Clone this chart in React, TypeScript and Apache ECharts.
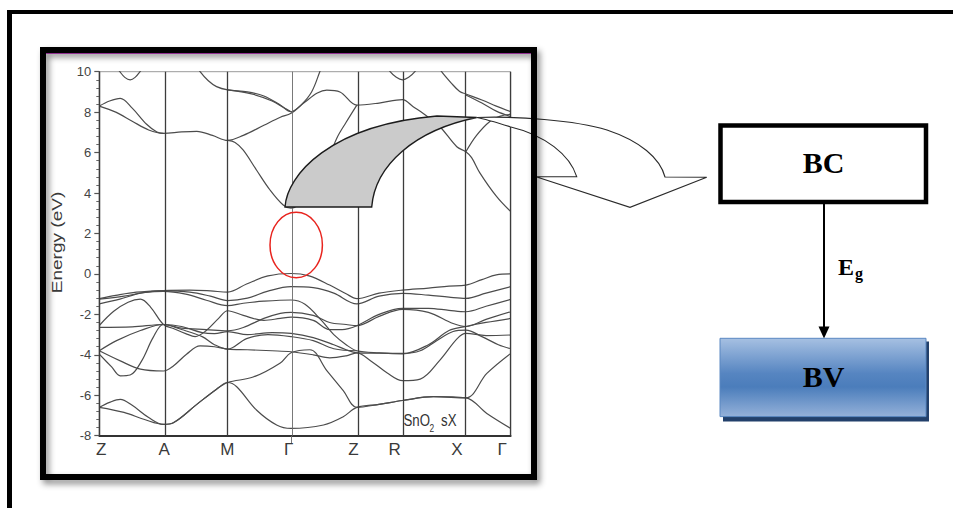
import React, { useEffect, useRef } from 'react';
import * as echarts from 'echarts';

// High-symmetry points along the k-path (normalised path length)
const kPointPositions = [0, 0.156, 0.312, 0.466, 0.626, 0.737, 0.891, 1.0];
const kPointLabels = ['Z', 'A', 'M', 'Γ', 'Z', 'R', 'X', 'Γ'];

// Energy axis (eV)
const energyMin = -8;
const energyMax = 10;
const energyStep = 2;

// Conduction bands: [k, E]
const cb1 = [[0.312, 6.6], [0.33, 6.5], [0.35, 6.12], [0.382, 5.14], [0.415, 4.15], [0.447, 3.41], [0.466, 3.25], [0.5, 3.7], [0.54, 4.9], [0.577, 6.7], [0.6, 7.5], [0.626, 8.35]];
const cb2 = [[0, 8.3], [0.025, 8.55], [0.051, 8.68], [0.08, 8.2], [0.115, 7.4], [0.14, 7.02], [0.156, 6.95]];
const cb3 = [[0, 8.3], [0.04, 8.0], [0.08, 7.55], [0.12, 7.12], [0.156, 6.95], [0.2, 7.02], [0.237, 7.05], [0.275, 6.85], [0.312, 6.6], [0.35, 6.85], [0.4, 7.35], [0.44, 7.75], [0.466, 7.94], [0.5, 8.5], [0.53, 8.95], [0.553, 9.09], [0.585, 9.0], [0.626, 8.35], [0.68, 8.45], [0.737, 8.62], [0.763, 8.27], [0.79, 7.9], [0.828, 7.28], [0.869, 6.29], [0.891, 6.04], [0.905, 5.75], [0.925, 5.0], [0.966, 3.82], [1.0, 3.08]];
const cb4 = [[0.035, 10.4], [0.05, 10.0], [0.062, 9.72], [0.075, 9.6], [0.087, 9.72], [0.099, 10.0], [0.112, 10.4]];
const cb5 = [[0.23, 10.5], [0.245, 10.0], [0.265, 9.55], [0.285, 9.26], [0.312, 9.1], [0.36, 9.0], [0.4, 8.8], [0.44, 8.35], [0.466, 8.02], [0.49, 8.35], [0.516, 9.0], [0.536, 10.0], [0.545, 10.5]];
const cb6 = [[0.312, 9.1], [0.37, 8.9], [0.42, 8.55], [0.45, 8.2], [0.466, 8.02]];
const cb7 = [[0.695, 10.4], [0.707, 10.0], [0.722, 9.72], [0.737, 9.6], [0.752, 9.72], [0.767, 10.0], [0.78, 10.4]];
const cb8 = [[0.82, 10.4], [0.832, 10.0], [0.855, 9.45], [0.876, 9.02], [0.891, 8.9], [0.93, 8.6], [0.965, 8.3], [1.0, 8.02]];
const cb9 = [[0.891, 8.85], [0.93, 8.45], [0.965, 8.05], [1.0, 7.78]];
const cb10 = [[0.891, 6.04], [0.917, 6.85], [0.95, 7.55], [0.975, 7.8], [1.0, 7.9]];

// Valence bands: [k, E]
const vb1 = [[0, -1.22], [0.04, -1.06], [0.09, -0.9], [0.156, -0.82], [0.22, -0.8], [0.27, -0.84], [0.312, -0.9], [0.358, -0.5], [0.41, -0.1], [0.466, 0.02], [0.51, -0.1], [0.56, -0.55], [0.6, -0.98], [0.626, -1.22], [0.68, -0.95], [0.737, -0.8], [0.8, -0.7], [0.85, -0.6], [0.891, -0.55], [0.93, -0.28], [0.965, -0.05], [1.0, 0.0]];
const vb2 = [[0, -1.48], [0.05, -1.25], [0.1, -0.95], [0.156, -0.84], [0.22, -0.9], [0.27, -1.1], [0.312, -1.32], [0.36, -1.2], [0.41, -0.85], [0.466, -0.63], [0.52, -0.68], [0.57, -0.95], [0.626, -1.48], [0.68, -1.1], [0.737, -0.96], [0.8, -1.05], [0.85, -1.15], [0.891, -1.21], [0.94, -0.95], [1.0, -0.63]];
const vb3 = [[0, -1.25], [0.06, -1.1], [0.11, -0.92], [0.156, -0.86], [0.21, -1.0], [0.26, -1.3], [0.312, -1.57], [0.35, -1.45], [0.4, -1.35], [0.466, -1.29], [0.5, -1.5], [0.54, -2.3], [0.57, -3.0], [0.6, -3.5], [0.626, -3.8], [0.68, -3.9], [0.737, -3.93], [0.78, -3.8], [0.82, -3.3], [0.86, -2.85], [0.891, -2.78], [0.93, -3.1], [0.97, -3.5], [1.0, -3.7]];
const vb4 = [[0, -2.55], [0.035, -1.85], [0.07, -1.4], [0.1, -1.25], [0.125, -1.65], [0.156, -2.5], [0.18, -2.7], [0.21, -2.95], [0.233, -3.1], [0.26, -2.8], [0.29, -2.2], [0.312, -1.82], [0.35, -2.05], [0.4, -2.3], [0.44, -2.2], [0.466, -2.14], [0.52, -2.3], [0.56, -2.75], [0.59, -2.75], [0.626, -2.56], [0.68, -2.0], [0.737, -1.7], [0.8, -1.7], [0.85, -1.8], [0.891, -1.87], [0.94, -1.6], [1.0, -1.26]];
const vb5 = [[0, -2.64], [0.08, -2.62], [0.156, -2.5], [0.2, -2.68], [0.26, -2.75], [0.312, -2.81], [0.35, -2.65], [0.4, -2.2], [0.44, -1.95], [0.466, -1.9], [0.52, -2.05], [0.56, -2.4], [0.6, -2.5], [0.626, -2.56], [0.68, -2.1], [0.737, -1.75], [0.8, -1.9], [0.86, -2.45], [0.891, -2.6], [0.94, -2.25], [1.0, -1.87]];
const vb6 = [[0, -3.8], [0.051, -4.3], [0.1, -4.71], [0.156, -4.8], [0.18, -4.55], [0.212, -3.97], [0.245, -3.56], [0.28, -3.6], [0.312, -3.72], [0.36, -3.75], [0.42, -3.8], [0.466, -3.85], [0.52, -4.0], [0.56, -4.15], [0.6, -4.05], [0.626, -3.9], [0.66, -4.3], [0.7, -4.9], [0.737, -5.28], [0.78, -5.2], [0.828, -4.26], [0.87, -3.2], [0.891, -2.94], [0.94, -3.05], [1.0, -3.02]];
const vb7 = [[0, -3.8], [0.042, -3.3], [0.1, -2.8], [0.156, -2.5], [0.2, -2.6], [0.25, -2.9], [0.28, -2.95], [0.312, -2.85], [0.36, -3.0], [0.42, -2.9], [0.466, -2.94], [0.52, -3.15], [0.57, -3.5], [0.6, -3.75], [0.626, -3.9], [0.68, -3.92], [0.737, -3.95], [0.8, -3.5], [0.85, -2.8], [0.891, -2.6], [0.94, -2.4], [1.0, -2.2]];
const vb8 = [[0, -3.97], [0.03, -4.6], [0.051, -5.04], [0.075, -5.0], [0.103, -4.3], [0.131, -3.14], [0.156, -2.5], [0.2, -2.75], [0.25, -3.1], [0.28, -3.5], [0.312, -3.72], [0.358, -3.2], [0.41, -3.0], [0.466, -3.1], [0.52, -3.3], [0.57, -3.7], [0.626, -3.8]];
const vb9 = [[0, -6.6], [0.06, -6.85], [0.11, -7.2], [0.156, -7.44], [0.18, -7.36], [0.237, -6.45], [0.285, -5.7], [0.312, -5.37], [0.374, -5.1], [0.44, -4.4], [0.466, -3.9], [0.512, -3.75], [0.553, -4.78], [0.593, -5.77], [0.626, -6.6], [0.68, -6.45], [0.737, -6.26], [0.812, -6.07], [0.891, -6.13], [0.942, -4.92], [1.0, -3.93]];
const vb10 = [[0, -6.6], [0.025, -6.35], [0.051, -6.2], [0.08, -6.5], [0.12, -7.1], [0.156, -7.44], [0.18, -7.36], [0.237, -6.45], [0.285, -5.7], [0.312, -5.37], [0.334, -5.58], [0.382, -6.73], [0.431, -7.47], [0.466, -7.64], [0.545, -7.47], [0.593, -7.06], [0.626, -6.6], [0.68, -6.45], [0.737, -6.26], [0.812, -6.07], [0.891, -6.13], [0.942, -6.9], [1.0, -7.64]];

const bands = [cb1, cb2, cb3, cb4, cb5, cb6, cb7, cb8, cb9, cb10, vb1, vb2, vb3, vb4, vb5, vb6, vb7, vb8, vb9, vb10];

// Curved block arrow: shaded underside and white front face with head
const ARROW_BACK = 'M285,207 C287,175 330,125 437,116 L476.7,117.5 C415,130 375,165 371.7,207 Z';
const ARROW_FRONT = 'M476.7,117.5 C515,116 575,120 607,130 C640,141 660,158 665,177 L706.7,177.3 L630,207.3 L536,176.7 L576.7,176.7 C570,155 545,135 510,126.7 C495,122 485,119 476.7,117.5 Z';
echarts.graphic.registerShape('arrowBack', echarts.graphic.extendPath(ARROW_BACK, {}));
echarts.graphic.registerShape('arrowFront', echarts.graphic.extendPath(ARROW_FRONT, {}));

const labelNudge = [2, -1, 0.5, -4, -5, -9, -8.5, -8.5];
const SANS = '"Liberation Sans", Arial, sans-serif';
const SERIF = '"Liberation Serif", "Times New Roman", serif';

function buildOption() {
  const series: any[] = bands.map((b, i) => ({
    type: 'line',
    data: b,
    smooth: 0.35,
    symbol: 'none',
    silent: true,
    lineStyle: { color: '#4c4c4c', width: 1.2 },
    markLine: i === 0 ? {
      silent: true,
      symbol: ['none', 'none'],
      animation: false,
      lineStyle: { color: '#3c3c3c', width: 1.3, type: 'solid' },
      label: {
        show: true,
        position: 'start',
        formatter: '{b}',
        distance: 5,
        color: '#3a3a3a',
        fontSize: 17,
        fontFamily: SANS,
      },
      data: kPointPositions.map((k, j) => ({
        xAxis: k,
        name: kPointLabels[j],
        label: { offset: [labelNudge[j], 0] },
        lineStyle: j === 3 ? { color: '#6a6a6a', width: 0.9 } : undefined,
      })),
    } : undefined,
  }));

  return {
    animation: false,
    backgroundColor: '#ffffff',
    grid: {
      left: 99.3, top: 71.7, right: 442.3, bottom: 72.3,
      show: true, borderColor: '#9a9a9a', borderWidth: 1,
    },
    xAxis: {
      type: 'value', min: 0, max: 1,
      axisLine: { show: true, onZero: false, lineStyle: { color: '#333', width: 1.8 } },
      axisTick: { show: false }, axisLabel: { show: false }, splitLine: { show: false },
    },
    yAxis: {
      type: 'value', min: energyMin, max: energyMax, interval: energyStep,
      axisLine: { show: true, lineStyle: { color: '#555', width: 1.3 } },
      axisTick: { show: true, length: 5, lineStyle: { color: '#555', width: 1.2 } },
      minorTick: { show: true, splitNumber: 5, length: 3, lineStyle: { color: '#666', width: 1 } },
      axisLabel: { color: '#444', fontSize: 13, fontFamily: SANS, margin: 8 },
      splitLine: { show: false },
    },
    series,
    graphic: [
      // outer page frame
      { type: 'line', z: 200, shape: { x1: 7, y1: 12, x2: 953, y2: 12 }, style: { stroke: '#000', lineWidth: 4 } },
      { type: 'line', z: 200, shape: { x1: 9.5, y1: 10, x2: 9.5, y2: 508 }, style: { stroke: '#000', lineWidth: 5 } },
      // axis title
      {
        type: 'text', z: 100, x: 57, y: 242.5, rotation: Math.PI / 2, scaleX: 1.36,
        style: { text: 'Energy (eV)', font: '14px ' + SANS, fill: '#3a3a3a', align: 'center', verticalAlign: 'middle' },
      },
      // Γ line runs a little below the axis
      { type: 'line', z: 100, shape: { x1: 291.5, y1: 436, x2: 291.5, y2: 443 }, style: { stroke: '#6a6a6a', lineWidth: 0.9 } },
      // material label
      { type: 'text', z: 100, x: 403.5, y: 420, scaleX: 0.78, style: { text: 'SnO', font: '17px ' + SANS, fill: '#333', align: 'left', verticalAlign: 'middle' } },
      { type: 'text', z: 100, x: 429.5, y: 429, scaleX: 0.84, style: { text: '2', font: '10px ' + SANS, fill: '#333', align: 'left', verticalAlign: 'middle' } },
      { type: 'text', z: 100, x: 441, y: 420, scaleX: 0.78, style: { text: 'sX', font: '17px ' + SANS, fill: '#333', align: 'left', verticalAlign: 'middle' } },
      // band gap marker
      { type: 'ellipse', z: 60, shape: { cx: 296.2, cy: 245, rx: 26.2, ry: 32.7 }, style: { fill: 'none', stroke: '#e8241e', lineWidth: 1.5 } },
      // curved arrow
      { type: 'arrowBack', z: 60, x: 0, y: 0, style: { fill: '#cbcbcb', stroke: '#1c1c1c', lineWidth: 1.4 } },
      { type: 'arrowFront', z: 60, x: 0, y: 0, style: { fill: '#ffffff', stroke: '#2a2a2a', lineWidth: 1.1 } },
      // plot frame
      { type: 'line', z: 150, shape: { x1: 46, y1: 53.5, x2: 531, y2: 53.5 }, style: { stroke: '#cc44cc', lineWidth: 1 } },
      {
        type: 'rect', z: 150, shape: { x: 43, y: 50, width: 491, height: 427 },
        style: { fill: 'none', stroke: '#000', lineWidth: 6, shadowBlur: 6, shadowOffsetX: 3, shadowOffsetY: 4, shadowColor: 'rgba(0,0,0,0.45)' },
      },
      // BC box
      { type: 'rect', z: 100, shape: { x: 720.5, y: 125.5, width: 205.5, height: 76.5 }, style: { fill: '#fff', stroke: '#000', lineWidth: 4.5 } },
      { type: 'text', z: 101, x: 823.5, y: 162.5, style: { text: 'BC', font: 'bold 30px ' + SERIF, fill: '#000', align: 'center', verticalAlign: 'middle' } },
      // Eg arrow
      { type: 'line', z: 100, shape: { x1: 824, y1: 204, x2: 824, y2: 329 }, style: { stroke: '#000', lineWidth: 2 } },
      { type: 'polygon', z: 100, shape: { points: [[818.5, 326.5], [829.5, 326.5], [824, 338.5]] }, style: { fill: '#000' } },
      { type: 'text', z: 100, x: 838, y: 267, style: { text: 'E', font: 'bold 24px ' + SERIF, fill: '#000', align: 'left', verticalAlign: 'middle' } },
      { type: 'text', z: 100, x: 855, y: 273, style: { text: 'g', font: 'bold 16px ' + SERIF, fill: '#000', align: 'left', verticalAlign: 'middle' } },
      // BV box
      { type: 'rect', z: 99, shape: { x: 723, y: 341.5, width: 206, height: 80 }, style: { fill: '#22406b' } },
      {
        type: 'rect', z: 100, shape: { x: 720, y: 338.3, width: 206, height: 78.3 },
        style: {
          fill: new echarts.graphic.LinearGradient(0, 0, 0, 1, [
            { offset: 0, color: '#a6c0e2' },
            { offset: 0.45, color: '#5685c1' },
            { offset: 0.62, color: '#4b7dbb' },
            { offset: 1, color: '#94b1d9' },
          ]),
          stroke: '#5a88c2', lineWidth: 1,
        },
      },
      { type: 'text', z: 101, x: 823.5, y: 376, style: { text: 'BV', font: 'bold 30px ' + SERIF, fill: '#000', align: 'center', verticalAlign: 'middle' } },
    ],
  };
}

export default function App() {
  const ref = useRef<HTMLDivElement>(null);
  useEffect(() => {
    if (!ref.current) return;
    const chart = echarts.init(ref.current, null, { renderer: 'svg' });
    chart.setOption(buildOption() as any);
    return () => chart.dispose();
  }, []);
  return (
    <div
      ref={ref}
      style={{ position: 'fixed', left: 0, top: 0, width: 953, height: 508, background: '#fff' }}
    />
  );
}
